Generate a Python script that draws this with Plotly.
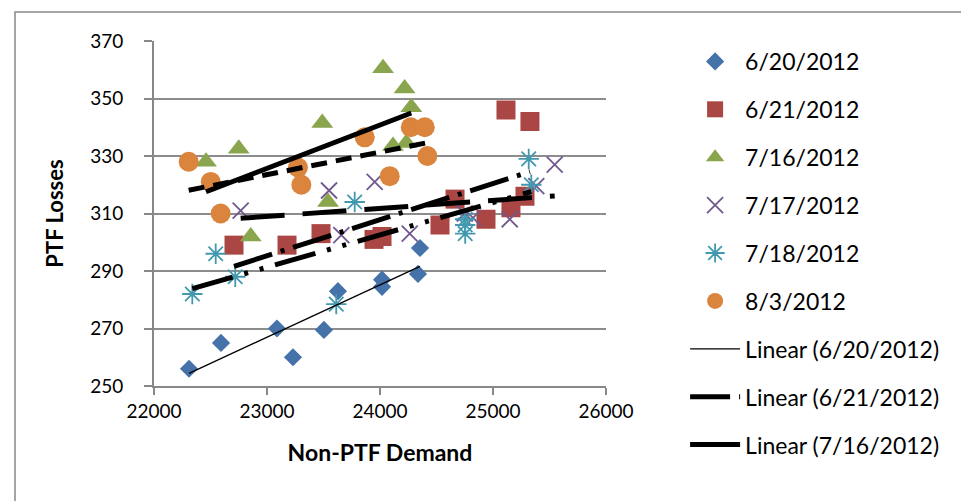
import numpy as np
import plotly.graph_objects as go

# ---- data ----
x_0620 = [22310, 22593, 23088, 23230, 23504, 23628, 24018, 24018, 24354, 24336]
y_0620 = [256, 265, 270, 260, 269.5, 283, 287, 284.5, 298, 289]

x_0621 = [22708, 23177, 23478, 23947, 24018, 24664, 24531, 24938, 25115, 25327, 25159, 25283]
y_0621 = [299, 299, 303, 301, 302, 315, 306, 308, 346, 342, 312, 316]

x_0716 = [22460, 22750, 22856, 23489, 23540, 24027, 24218, 24277, 24115, 24233]
y_0716 = [328, 332.5, 302, 341.5, 314, 360.5, 353.5, 347, 333.5, 334.5]

x_0717 = [22767, 23549, 23658, 23953, 24263, 24750, 24823, 25148, 25546, 25383]
y_0717 = [311, 318, 302.5, 321, 303, 310, 308.5, 308, 327, 319.5]

x_0718 = [22339, 22546, 22719, 23776, 23613, 24754, 24754, 24754, 25316, 25339]
y_0718 = [282, 296, 288, 314, 278.5, 308, 303, 306, 329, 320]

x_0803 = [22307, 22502, 22590, 23865, 23274, 23304, 24272, 24396, 24419, 24086]
y_0803 = [328, 321, 310, 336.5, 326, 320, 340, 340, 330, 323]

y_ticks = [250, 270, 290, 310, 330, 350, 370]
x_ticks = [22000, 23000, 24000, 25000, 26000]

series = [
    ("6/20/2012", x_0620, y_0620, dict(symbol="diamond", size=14, color="#4672AA")),
    ("6/21/2012", x_0621, y_0621, dict(symbol="square", size=19, color="#AA4643")),
    ("7/16/2012", x_0716, y_0716, dict(symbol="triangle-up", size=19, color="#89A54E")),
    ("7/17/2012", x_0717, y_0717, dict(symbol="x-thin-open", size=16, color="#71588F",
                                       line=dict(width=1.8, color="#71588F"))),
    ("7/18/2012", x_0718, y_0718, dict(symbol="asterisk-open", size=17, color="#4198AF",
                                       line=dict(width=1.8, color="#4198AF"))),
    ("8/3/2012", x_0803, y_0803, dict(symbol="circle", size=20, color="#DB843D")),
]

trend_styles = {
    "6/20/2012": dict(width=1.3, dash="solid"),
    "6/21/2012": dict(width=5, dash="40px,9px,4px,9px"),
    "7/16/2012": dict(width=5, dash="solid"),
    "7/17/2012": dict(width=5, dash="44px,18px"),
    "7/18/2012": dict(width=5, dash="42px,12px,4px,12px,4px,12px"),
    "8/3/2012": dict(width=5, dash="16px,9px"),
}
trend_legend = {"6/20/2012", "6/21/2012", "7/16/2012"}

fig = go.Figure()
for i, (name, xs, ys, mk) in enumerate(series):
    fig.add_trace(go.Scatter(x=xs, y=ys, mode="markers", name=name, marker=mk,
                             legendgroup=f"g{i}", legendrank=i + 1))

for i, (name, xs, ys, mk) in enumerate(series):
    xa = np.array(xs, dtype=float)
    ya = np.array(ys, dtype=float)
    m, b = np.polyfit(xa, ya, 1)
    xl = [xa.min(), xa.max()]
    yl = [m * v + b for v in xl]
    fig.add_trace(go.Scatter(x=xl, y=yl, mode="lines", name=f"Linear ({name})",
                             line=dict(color="black", **trend_styles[name]),
                             showlegend=name in trend_legend,
                             legendgroup=f"t{i}", legendrank=10 + i))

font_family = "Lato, 'Open Sans', sans-serif"
fig.update_layout(
    width=969, height=501,
    margin=dict(l=146, r=371, t=33, b=123),
    paper_bgcolor="white", plot_bgcolor="white",
    font=dict(family=font_family, size=19, color="black"),
    showlegend=True,
    legend=dict(x=1.175, y=1.003, xanchor="left", yanchor="top",
                font=dict(size=23, family=font_family), tracegroupgap=15,
                itemwidth=50, maxheight=490, bgcolor="rgba(0,0,0,0)"),
    xaxis=dict(range=[22000, 26000], tickvals=x_ticks, ticktext=[str(v) for v in x_ticks],
               showgrid=False, zeroline=False, showline=True, linecolor="#888888", linewidth=2,
               ticks="outside", ticklen=7, tickcolor="#888888", tickwidth=2,
               title=dict(text="<b>Non-PTF Demand</b>", font=dict(size=23), standoff=24),
               tickfont=dict(size=19)),
    yaxis=dict(range=[250, 370], tickvals=y_ticks, ticktext=[str(v) for v in y_ticks],
               showgrid=True, gridcolor="#8C8C8C", gridwidth=2, zeroline=False,
               showline=True, linecolor="#888888", linewidth=2,
               ticks="outside", ticklen=8, tickcolor="#888888", tickwidth=2,
               ticklabelstandoff=17,
               title=dict(text="<b>PTF Losses</b>", font=dict(size=22), standoff=20),
               tickfont=dict(size=19)),
    shapes=[dict(type="rect", xref="paper", yref="paper",
                 x0=(7 - 146) / 452, x1=(963 - 146) / 452,
                 y0=(378 - 496) / 345, y1=(378 - 4) / 345,
                 line=dict(color="#888888", width=1.5), layer="below")],
)

fig.write_html("out.html")
